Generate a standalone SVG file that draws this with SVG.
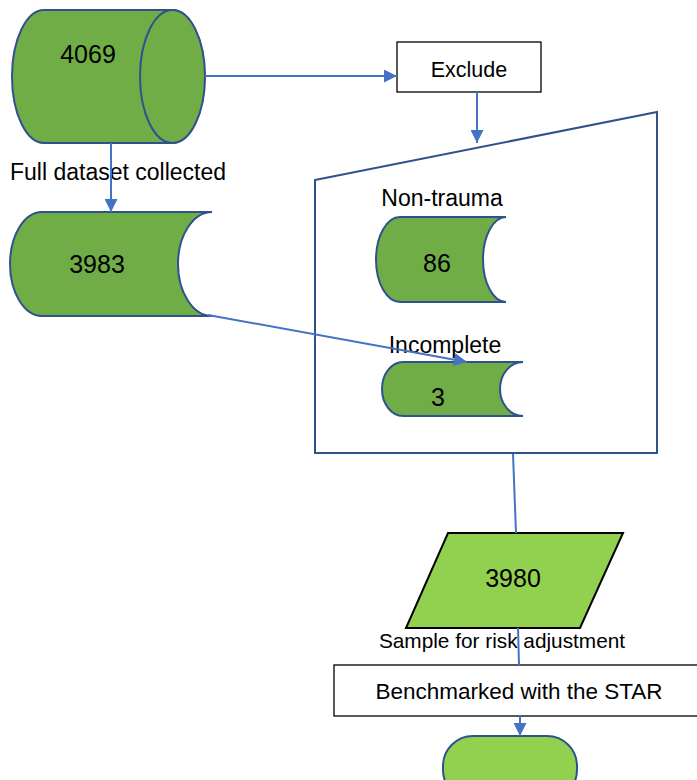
<svg xmlns="http://www.w3.org/2000/svg" width="697" height="780" viewBox="0 0 697 780">
<style>
text{font-family:"Liberation Sans",Arial,sans-serif;fill:#000;text-anchor:middle}
.num{font-size:25px}
.lbl{font-size:23px}
.db{fill:#70AD47;stroke:#2F528F;stroke-width:2}
.box{fill:#fff;stroke:#000;stroke-width:1.3}
.con{fill:none;stroke:#4472C4;stroke-width:2}
</style>
<defs>
<marker id="ah" viewBox="0 0 10 10" refX="10" refY="5" markerWidth="7" markerHeight="6.5" orient="auto" markerUnits="strokeWidth">
<path d="M0,0 L10,5 L0,10 Z" fill="#4472C4"/>
</marker>
</defs>
<rect width="697" height="780" fill="#fff"/>
<g id="n4069">
<path class="db" d="M44,10 L172,10 A32.5,66.5 0 0 1 172,143 L44,143 A32,66.5 0 0 1 44,10 Z"/>
<ellipse class="db" cx="172.5" cy="76.5" rx="32.5" ry="66.5"/>
<text class="num" x="88" y="63">4069</text>
</g>
<g id="lblFull"><text class="lbl" x="118" y="180">Full dataset collected</text></g>
<g id="nExclude">
<rect class="box" x="397" y="42" width="144" height="50"/>
<text style="font-size:21.5px" x="469" y="77">Exclude</text>
</g>
<g id="n3983">
<path class="db" d="M42,212 L212,212 A34,52 0 0 0 212,316 L42,316 A32,52 0 0 1 42,212 Z"/>
<text class="num" x="97" y="273">3983</text>
</g>
<g id="nExcludedGroup">
<path d="M315,180 L657,112 L657,453 L315,453 Z" fill="none" stroke="#2F528F" stroke-width="2"/>
</g>
<g id="n86">
<text class="lbl" x="442" y="206">Non-trauma</text>
<path class="db" d="M400,217 L506,217 A23,42.5 0 0 0 506,302 L400,302 A24,42.5 0 0 1 400,217 Z"/>
<text class="num" x="437" y="272">86</text>
</g>
<g id="n3">
<text class="lbl" x="445" y="353">Incomplete</text>
<path class="db" d="M403,362 L523,362 A23,27 0 0 0 523,416 L403,416 A21,27 0 0 1 403,362 Z"/>
<text class="num" x="438" y="406">3</text>
</g>
<g id="n3980">
<path d="M448,533 L623,533 L580,628 L406,628 Z" fill="#92D050" stroke="#000" stroke-width="2"/>
<text class="num" x="513" y="587">3980</text>
</g>
<g id="lblSample"><text style="font-size:20.8px" x="502" y="648">Sample for risk adjustment</text></g>
<g id="nBench">
<rect class="box" x="334" y="665" width="370" height="51"/>
<text style="font-size:22.5px" x="519" y="699">Benchmarked with the STAR</text>
</g>
<g id="nEnd">
<rect x="443" y="736" width="134" height="64" rx="30" fill="#92D050" stroke="#2F528F" stroke-width="2"/>
</g>
<g id="connectors">
<line class="con" x1="205" y1="76" x2="397" y2="76" marker-end="url(#ah)"/>
<line class="con" x1="477" y1="92" x2="477" y2="143" marker-end="url(#ah)"/>
<line class="con" x1="111" y1="143" x2="111" y2="212" marker-end="url(#ah)"/>
<line class="con" x1="208" y1="315" x2="467" y2="362" marker-end="url(#ah)"/>
<line class="con" x1="513" y1="454" x2="516" y2="533"/>
<line class="con" x1="518" y1="628" x2="519" y2="665"/>
<line class="con" x1="520" y1="716" x2="520" y2="736" marker-end="url(#ah)"/>
</g>
</svg>
